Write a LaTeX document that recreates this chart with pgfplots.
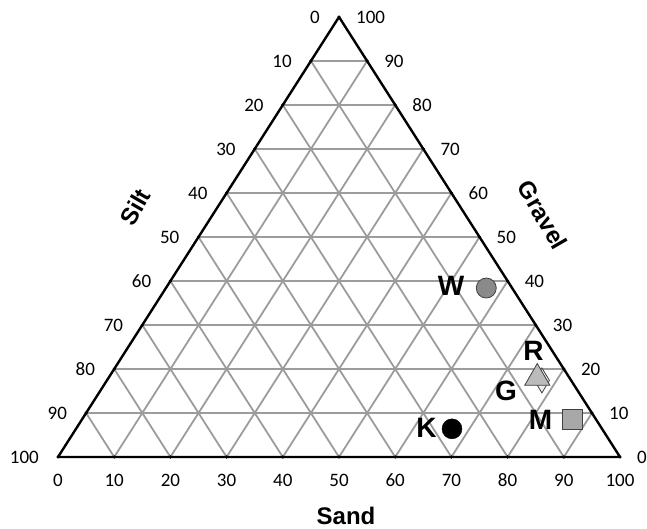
\documentclass[border=0pt]{standalone}
\usepackage{pgfplots}
\pgfplotsset{compat=1.18}
\usepackage{pgfplotstable}
\usepackage{fontspec}
\setmainfont{Carlito}
\newfontfamily\arialfont{Liberation Sans}
\definecolor{gridgray}{HTML}{9C9C9C}
\definecolor{edgegray}{HTML}{404040}
\definecolor{wfill}{HTML}{8A8A8A}
\definecolor{rfill}{HTML}{BBBBBB}
\definecolor{gfill}{HTML}{EEEEEE}
\definecolor{mfill}{HTML}{A8A8A8}
\begin{document}
\begin{tikzpicture}
\begin{axis}[
  scale only axis, width=647bp, height=529bp,
  xmin=-10.32, xmax=104.8, ymin=-16.36, ymax=103.86,
  hide axis, clip=false,
]
% grid
\addplot[gridgray, line width=1.8bp, unbounded coords=jump] coordinates {
 (5,10) (95,10) (nan,nan) (10,20) (90,20) (nan,nan) (15,30) (85,30) (nan,nan)
 (20,40) (80,40) (nan,nan) (25,50) (75,50) (nan,nan) (30,60) (70,60) (nan,nan)
 (35,70) (65,70) (nan,nan) (40,80) (60,80) (nan,nan) (45,90) (55,90) (nan,nan)
 (10,0) (55,90) (nan,nan) (20,0) (60,80) (nan,nan) (30,0) (65,70) (nan,nan)
 (40,0) (70,60) (nan,nan) (50,0) (75,50) (nan,nan) (60,0) (80,40) (nan,nan)
 (70,0) (85,30) (nan,nan) (80,0) (90,20) (nan,nan) (90,0) (95,10) (nan,nan)
 (10,0) (5,10) (nan,nan) (20,0) (10,20) (nan,nan) (30,0) (15,30) (nan,nan)
 (40,0) (20,40) (nan,nan) (50,0) (25,50) (nan,nan) (60,0) (30,60) (nan,nan)
 (70,0) (35,70) (nan,nan) (80,0) (40,80) (nan,nan) (90,0) (45,90)
};
% triangle border
\addplot[black, line width=2.4bp, line join=round] coordinates {(0,0) (100,0) (50,100) (0,0)};
% edge ticks
\addplot[only marks, mark=*, mark size=1.4bp, black] coordinates {
 (0,0) (100,0) (50,100)
 (5,10) (10,20) (15,30) (20,40) (25,50) (30,60) (35,70) (40,80) (45,90)
 (95,10) (90,20) (85,30) (80,40) (75,50) (70,60) (65,70) (60,80) (55,90)
 (10,0) (20,0) (30,0) (40,0) (50,0) (60,0) (70,0) (80,0) (90,0)
};
% data points (ternary: sand, gravel; silt = 100 - sand - gravel)
\addplot[only marks, mark=*, mark size=10bp, fill=wfill, draw=edgegray, line width=0.8bp]
  table[x expr=\thisrow{sand}+0.5*\thisrow{gravel}, y=gravel, row sep=\\] {sand gravel\\ 57.0 38.4\\};
\addplot[only marks, mark=diamond*, mark size=12.5bp, mark options={xscale=0.8}, fill=gfill, draw=edgegray, line width=0.8bp]
  table[x expr=\thisrow{sand}+0.5*\thisrow{gravel}, y=gravel, row sep=\\] {sand gravel\\ 77.4 17.4\\};
\addplot[only marks, mark=triangle*, mark size=14.5bp, fill=rfill, draw=edgegray, line width=0.8bp]
  table[x expr=\thisrow{sand}+0.5*\thisrow{gravel}, y=gravel, row sep=\\] {sand gravel\\ 76.3 17.95\\};
\addplot[only marks, mark=square*, mark size=10bp, fill=mfill, draw=edgegray, line width=0.8bp]
  table[x expr=\thisrow{sand}+0.5*\thisrow{gravel}, y=gravel, row sep=\\] {sand gravel\\ 87.3 8.6\\};
\addplot[only marks, mark=*, mark size=10bp, fill=black, draw=black]
  table[x expr=\thisrow{sand}+0.5*\thisrow{gravel}, y=gravel, row sep=\\] {sand gravel\\ 66.9 6.4\\};
% tick labels
\pgfplotsinvokeforeach{0,10,...,100}{
  \node[anchor=center, inner sep=0pt, font=\fontsize{19bp}{21bp}\selectfont] at (axis cs:#1,-5.23) {#1};
  \node[anchor=east, inner sep=0pt, xshift=-19bp, font=\fontsize{19bp}{21bp}\selectfont] at (axis cs:{(100-#1)/2},{100-#1}) {#1};
  \node[anchor=west, inner sep=0pt, xshift=17bp, font=\fontsize{19bp}{21bp}\selectfont] at (axis cs:{100-#1/2},#1) {#1};
}
% axis titles
\node[inner sep=0pt, font=\arialfont\bfseries\fontsize{24bp}{26bp}\selectfont] at (axis cs:51.25,-13.4) {Sand};
\node[inner sep=0pt, rotate=60, font=\arialfont\bfseries\fontsize{24bp}{26bp}\selectfont] at (axis cs:13.7,56.8) {Silt};
\node[inner sep=0pt, rotate=-60, font=\arialfont\bfseries\fontsize{24bp}{26bp}\selectfont] at (axis cs:86.3,55.0) {Gravel};
% point labels
\node[inner sep=0pt, font=\arialfont\bfseries\fontsize{28bp}{30bp}\selectfont] at (axis cs:69.93,38.86) {W};
\node[inner sep=0pt, font=\arialfont\bfseries\fontsize{28bp}{30bp}\selectfont] at (axis cs:84.61,24.09) {R};
\node[inner sep=0pt, font=\arialfont\bfseries\fontsize{28bp}{30bp}\selectfont] at (axis cs:79.72,15.0) {G};
\node[inner sep=0pt, font=\arialfont\bfseries\fontsize{28bp}{30bp}\selectfont] at (axis cs:85.85,8.41) {M};
\node[inner sep=0pt, font=\arialfont\bfseries\fontsize{28bp}{30bp}\selectfont] at (axis cs:65.57,6.59) {K};
\end{axis}
\pgfresetboundingbox
\path[use as bounding box] (current axis.south west) rectangle (current axis.north east);
\end{tikzpicture}
\end{document}
